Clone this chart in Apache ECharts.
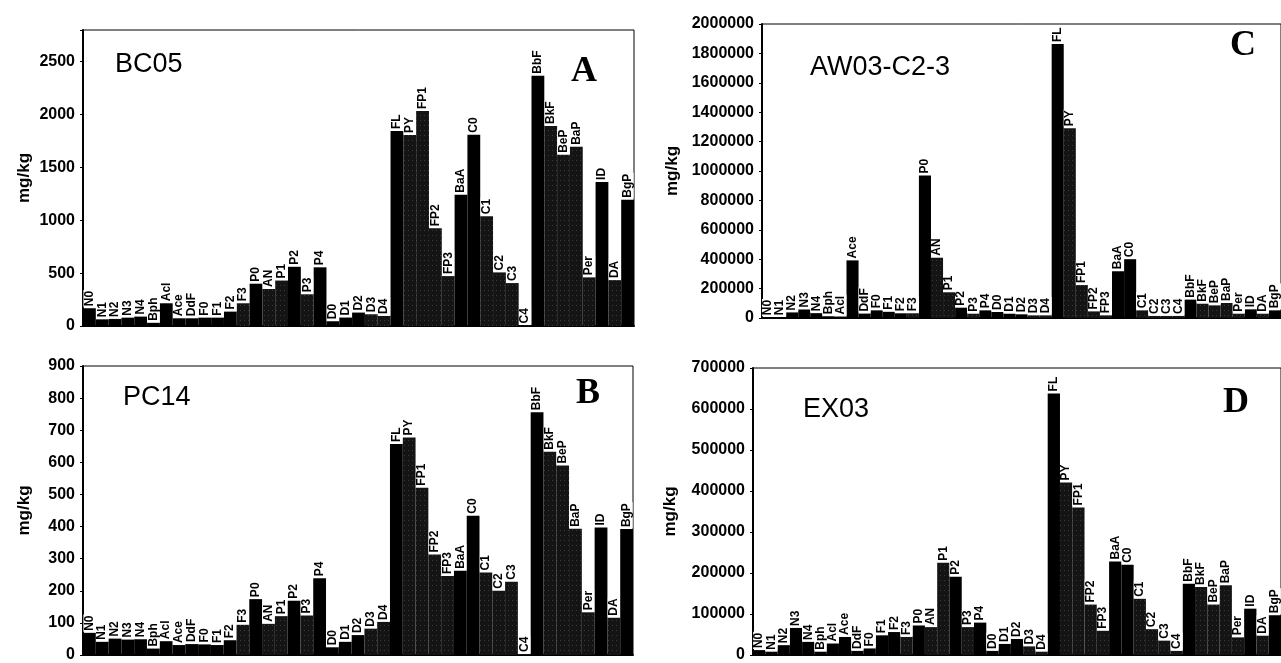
<!DOCTYPE html>
<html>
<head>
<meta charset="utf-8">
<script src="https://cdn.jsdelivr.net/npm/echarts@6/dist/echarts.min.js"></script>
<style>
html,body{margin:0;padding:0;background:#fff;}
#chart{width:1281px;height:663px;}
</style>
</head>
<body>
<div id="chart"></div>
<script>
const categories = ['N0','N1','N2','N3','N4','Bph','Acl','Ace','DdF','F0','F1','F2','F3','P0','AN','P1','P2','P3','P4','D0','D1','D2','D3','D4','FL','PY','FP1','FP2','FP3','BaA','C0','C1','C2','C3','C4','BbF','BkF','BeP','BaP','Per','ID','DA','BgP'];

// fill type per compound: k = solid black, s = stippled
const fillType = ['k','k','k','k','k','k','k','k','k','k','k','k','s','k','s','s','k','s','k','k','k','k','s','s','k','s','s','s','s','k','k','s','s','s','s','k','s','s','s','s','k','s','k'];

const bc05 = [168,63,67,79,89,30,215,73,73,79,79,136,215,400,350,430,560,300,555,45,80,127,111,95,1844,1806,2034,925,472,1242,1809,1039,507,406,5,2367,1892,1619,1695,460,1363,434,1195];
const pc14 = [69,41,51,48,49,20,43,31,34,33,31,46,94,174,97,121,169,123,239,24,41,62,82,103,657,677,521,313,246,262,434,257,200,228,3,756,633,590,393,133,397,116,392];
const aw03 = [5000,5000,38000,58000,33000,12000,10000,392000,30000,52000,42000,32000,32000,969000,410000,175000,70000,29000,52000,41000,29000,25000,18000,18000,1864000,1291000,224000,45000,18000,318000,400000,52000,14000,14000,14000,125000,97000,86000,102000,29000,59000,29000,52000];
const ex03 = [12000,8000,24000,66000,32000,8000,28000,44000,10000,16000,48000,56000,44000,72000,68000,225000,191000,68000,79000,10000,27000,39000,21000,8000,638000,421000,360000,123000,59000,228000,220000,137000,63000,35000,10000,174000,166000,123000,170000,43000,113000,47000,97000];

const panelNames = ['BC05','PC14','AW03-C2-3','EX03'];
const panelLetters = ['A','B','C','D'];
const yMax = [2800, 900, 2000000, 700000];
const yInterval = [500, 100, 200000, 100000];

const FONT = '"Liberation Sans", Arial, sans-serif';
const SERIF = '"Liberation Serif", "Times New Roman", serif';

const grids = [
  {left: 83, right: 647, top: 30, bottom: 337},
  {left: 83, right: 648, top: 366, bottom: 5},
  {left: 762, right: -2, top: 24, bottom: 345},
  {left: 753, right: -3, top: 368, bottom: 5}
];
const nameGaps = [50, 50, 81, 74];
const titlePos = [[115,51],[123,384],[810,54],[803,396]];
const letterPos = [[571,54],[576,376],[1230,28],[1223,385]];
const seriesData = [bc05, pc14, aw03, ex03];

const stipple = {
  color: '#141414',
  decal: {symbol: 'rect', symbolSize: 1, color: 'rgba(255,255,255,0.16)', dashArrayX: [1, 3], dashArrayY: [1, 4], rotation: 0}
};
const solid = {color: '#000'};

const option = {
  animation: false,
  backgroundColor: '#fff',
  grid: grids.map(g => Object.assign({show: true, borderColor: '#000', borderWidth: 1, backgroundColor: 'transparent'}, g)),
  title: [].concat(
    panelNames.map((t, i) => ({text: t, left: titlePos[i][0], top: titlePos[i][1], padding: 0,
      textStyle: {fontFamily: FONT, fontSize: 27, fontWeight: 'normal', color: '#000'}})),
    panelLetters.map((t, i) => ({text: t, left: letterPos[i][0], top: letterPos[i][1], padding: 0,
      textStyle: {fontFamily: SERIF, fontSize: 36, fontWeight: 'bold', color: '#000'}}))
  ),
  xAxis: grids.map((g, i) => ({
    type: 'category', gridIndex: i, data: categories,
    axisLine: {lineStyle: {color: '#000', width: 2}},
    axisTick: {show: false}, axisLabel: {show: false}
  })),
  yAxis: grids.map((g, i) => ({
    type: 'value', gridIndex: i, min: 0, max: yMax[i], interval: yInterval[i],
    name: 'mg/kg', nameLocation: 'middle', nameGap: nameGaps[i],
    nameTextStyle: {fontFamily: FONT, fontSize: 17, fontWeight: 'bold', color: '#000'},
    axisLine: {show: true, lineStyle: {color: '#000', width: 2}},
    axisTick: {show: true, length: 3, lineStyle: {color: '#000'}},
    splitLine: {show: false},
    axisLabel: {fontFamily: FONT, fontSize: 16, fontWeight: 'bold', color: '#000', margin: 8,
      formatter: v => (v % yInterval[i] === 0 ? String(v) : '')}
  })),
  series: seriesData.map((vals, i) => ({
    type: 'bar', xAxisIndex: i, yAxisIndex: i,
    barCategoryGap: '0%',
    data: vals.map((v, j) => ({value: v, itemStyle: fillType[j] === 's' ? stipple : solid})),
    label: {
      show: true, position: 'top', rotate: 90, align: 'left', verticalAlign: 'middle',
      distance: 1, formatter: '{b}', fontFamily: FONT, fontSize: 12, fontWeight: 'bold', color: '#000',
      backgroundColor: '#fff', padding: [0, 1, 0, 1]
    }
  }))
};

const chart = echarts.init(document.getElementById('chart'), null, {renderer: 'canvas'});
chart.setOption(option);
</script>
</body>
</html>
